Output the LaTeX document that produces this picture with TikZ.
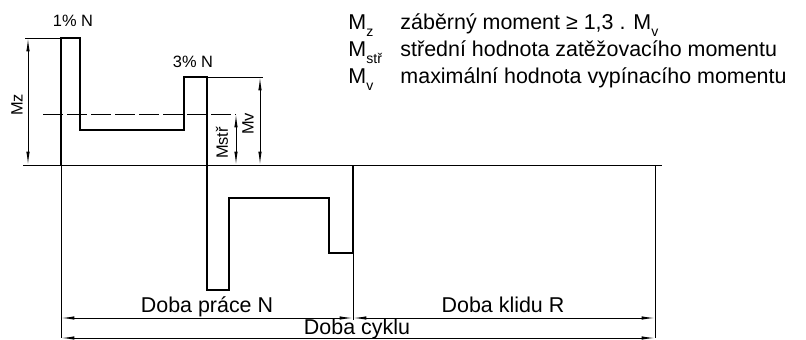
\documentclass[tikz,border=0pt]{standalone}
\usepackage{fontspec}
\setmainfont{Liberation Sans}
\usetikzlibrary{arrows.meta}

\newcommand{\lowidx}[1]{\raisebox{-0.55ex}{\fontsize{12}{12}\selectfont #1}}

\begin{document}
\begin{tikzpicture}[x=0.03cm,y=-0.03cm,line width=0.8pt,
        dim/.style={{Latex[length=4mm,width=1mm]}-{Latex[length=4mm,width=1mm]}},
        wave/.style={line width=1.8pt,line join=miter},
        tag/.style={font=\fontsize{14}{16}\selectfont,inner sep=0pt},
        big/.style={font=\fontsize{18.3}{22}\selectfont,inner sep=0pt,anchor=base west}]
        \useasboundingbox (0,0) rectangle (806,340);

        % main points
        \def\zero{165}
        \coordinate (s) at (61,\zero);
        \coordinate (t1) at (61,38);
        \coordinate (t3) at (207,77);
        \coordinate (e) at (353,\zero);
        \coordinate (r) at (655,\zero);

        % load curve
        \draw [wave] (s) -- (t1) -- (80,38) -- (80,130) -- (184,130) -- (184,77) -- (t3)
            -- (207,290) -- (229,290) -- (229,198) -- (329,198) -- (329,253) -- (353,253) -- (e);

        % zero line and extension lines
        \draw (23,\zero) -- (662,\zero);
        \draw (s) -- (61,338) coordinate (c0);
        \draw (e) -- (353,320) coordinate (c1);
        \draw (r) -- (655,338) coordinate (c2);
        \draw (25,38) coordinate (mz) -- (t1);
        \draw (t3) -- (263,77) coordinate (mv);
        \draw [dash pattern=on 0.6cm off 0.12cm] (43,114) -- (236,114) coordinate (ms);

        % moment dimensions
        \draw [dim] (28,38) -- (28,\zero);
        \draw [dim] (ms) -- (236,\zero);
        \draw [dim] (260,77) -- (260,\zero);
        \node [tag,rotate=90] (lz) at (17,105) {Mz};
        \node [tag,rotate=90] (ls) at (222,143) {Mstř};
        \node [tag,rotate=90] (lv) at (248,124) {Mv};
        \node [tag] (p1) at (73,21) {1\% N};
        \node [tag] (p3) at (193,62) {3\% N};

        % time dimensions
        \draw [dim] (61,318) -- (353,318);
        \draw [dim] (353,318) -- (655,318);
        \draw [dim] (c0) -- (c2);
        \node [big,anchor=base] (dn) at (207,312) {Doba práce N};
        \node [big,anchor=base] (dr) at (503,312) {Doba klidu R};
        \node [big,anchor=base] (dc) at (357,334) {Doba cyklu};

        % legend
        \node [big] (kz) at (348,30) {M\lowidx{z}};
        \node [big] (ks) at (348,57) {M\lowidx{stř}};
        \node [big] (kv) at (348,84) {M\lowidx{v}};
        \node [big] (tz) at (400,30) {záběrný moment ≥ 1,3 . M\lowidx{v}};
        \node [big] (ts) at (400,57) {střední hodnota zatěžovacího momentu};
        \node [big] (tv) at (400,84) {maximální hodnota vypínacího momentu};
\end{tikzpicture}
\end{document}
